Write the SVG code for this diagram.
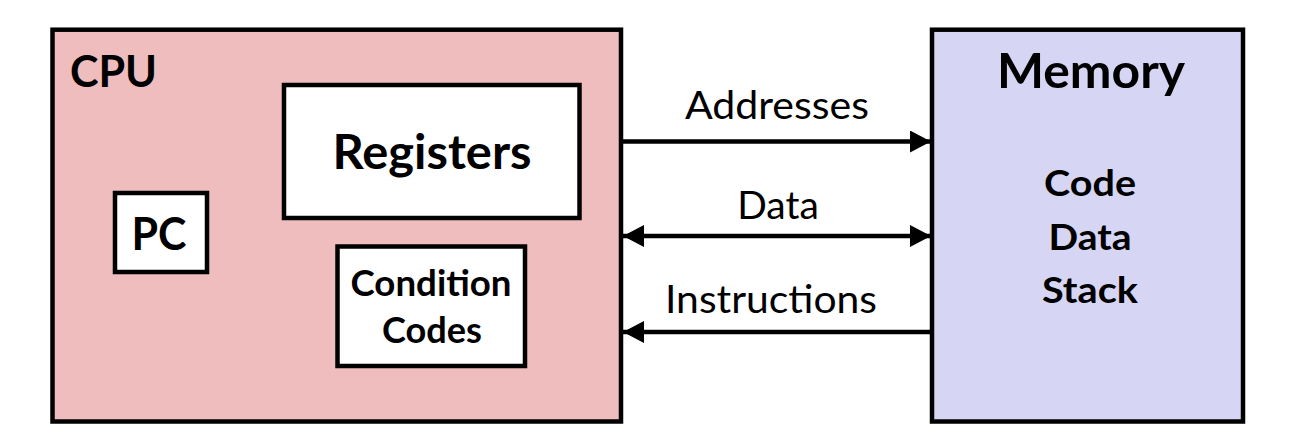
<svg xmlns="http://www.w3.org/2000/svg" width="1312" height="444" viewBox="0 0 1312 444">
<style>
.box{stroke:#000;stroke-width:4.5}
.cpu{fill:#efbdbd}
.mem{fill:#d6d6f4}
.inner{fill:#fff}
.b{font-family:Lato,"Open Sans",sans-serif;font-weight:bold;fill:#000}
.r{font-family:Lato,"Open Sans",sans-serif;fill:#000}
.c{text-anchor:middle}
.wire{stroke:#000;stroke-width:4.5;fill:none}
</style>
<defs>
<marker id="ah" viewBox="0 0 21 22" refX="21" refY="11" markerWidth="21" markerHeight="22" markerUnits="userSpaceOnUse" orient="auto-start-reverse">
<path d="M0,0 L21,11 L0,22 Z" fill="#000"/>
</marker>
</defs>
<rect width="1312" height="444" fill="#fff"/>
<g id="cpu">
<rect class="box cpu" x="52.5" y="29.7" width="568.5" height="391.8"/>
<text class="b" x="70" y="87" font-size="44" textLength="87" lengthAdjust="spacingAndGlyphs">CPU</text>
</g>
<g id="registers">
<rect class="box inner" x="284" y="85" width="295.5" height="133"/>
<text class="b c" x="432" y="169" font-size="47" textLength="199" lengthAdjust="spacingAndGlyphs">Registers</text>
</g>
<g id="pc">
<rect class="box inner" x="115" y="193" width="92" height="79"/>
<text class="b c" x="159" y="250" font-size="46" textLength="55" lengthAdjust="spacingAndGlyphs">PC</text>
</g>
<g id="condition-codes">
<rect class="box inner" x="337.5" y="246.5" width="187.5" height="119.5"/>
<text class="b c" x="431" y="295.7" font-size="36" textLength="161" lengthAdjust="spacingAndGlyphs">Condition</text>
<text class="b c" x="432" y="343.3" font-size="36" textLength="100" lengthAdjust="spacingAndGlyphs">Codes</text>
</g>
<g id="memory">
<rect class="box mem" x="932" y="29.7" width="311" height="391.8"/>
<text class="b c" x="1091" y="88.3" font-size="47" textLength="188" lengthAdjust="spacingAndGlyphs">Memory</text>
<text class="b c" x="1090" y="196" font-size="36" textLength="92" lengthAdjust="spacingAndGlyphs">Code</text>
<text class="b c" x="1090" y="250" font-size="36" textLength="83" lengthAdjust="spacingAndGlyphs">Data</text>
<text class="b c" x="1090" y="303.3" font-size="36" textLength="96" lengthAdjust="spacingAndGlyphs">Stack</text>
</g>
<g id="connectors">
<line class="wire" x1="621" y1="141.5" x2="931" y2="141.5" marker-end="url(#ah)"/>
<line class="wire" x1="623" y1="236" x2="931" y2="236" marker-start="url(#ah)" marker-end="url(#ah)"/>
<line class="wire" x1="932" y1="332" x2="623" y2="332" marker-end="url(#ah)"/>
<text class="r c" x="777" y="119" font-size="38" textLength="184" lengthAdjust="spacingAndGlyphs">Addresses</text>
<text class="r c" x="778" y="219.3" font-size="38" textLength="81.5" lengthAdjust="spacingAndGlyphs">Data</text>
<text class="r c" x="771" y="313.3" font-size="38" textLength="212" lengthAdjust="spacingAndGlyphs">Instructions</text>
</g>
</svg>
